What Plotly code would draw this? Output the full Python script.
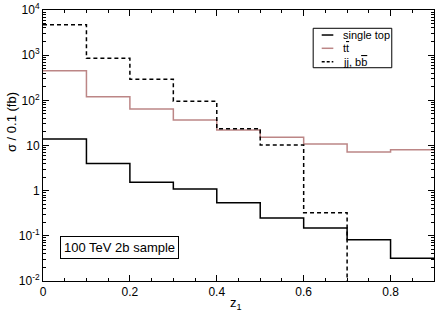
import plotly.graph_objects as go

bin_edges = [0.0, 0.1, 0.2, 0.3, 0.4, 0.5, 0.6, 0.7, 0.8, 0.9]
single_top = [14.0, 4.0, 1.53, 1.09, 0.54, 0.248, 0.149, 0.082, 0.032]
ttbar = [450.0, 120.0, 64.0, 36.7, 22.0, 15.2, 10.8, 7.2, 8.1]
jj_bb = [4730.0, 852.0, 292.0, 95.0, 23.6, 10.3, 0.326]
jj_floor = 1e-4  # bin 0.7-0.8 is empty: line drops to the bottom of the frame

series_names = ["single top", "t<span style='text-decoration:overline'>t</span>",
                "jj, b<span style='text-decoration:overline'>b</span>"]
series_colors = ["black", "#bc8686", "black"]
series_dash = ["solid", "solid", "4px,3px"]

y_tickvals = [1e-2, 1e-1, 1, 10, 1e2, 1e3, 1e4]
y_ticktext = ["10<sup>-2</sup>", "10<sup>-1</sup>", "1", "10", "10<sup>2</sup>", "10<sup>3</sup>", "10<sup>4</sup>"]
x_tickvals = [0, 0.2, 0.4, 0.6, 0.8]
x_ticktext = ["0", "0.2", "0.4", "0.6", "0.8"]

FONT = "Liberation Sans, Arial, sans-serif"

fig = go.Figure()
fig.add_trace(go.Scatter(
    x=bin_edges, y=single_top + [single_top[-1]], mode="lines", line_shape="hv",
    line=dict(color=series_colors[0], width=1.5, dash=series_dash[0]), name=series_names[0]))
fig.add_trace(go.Scatter(
    x=bin_edges, y=ttbar + [ttbar[-1]], mode="lines", line_shape="hv",
    line=dict(color=series_colors[1], width=1.5, dash=series_dash[1]), name=series_names[1]))
fig.add_trace(go.Scatter(
    x=bin_edges[:len(jj_bb) + 1], y=jj_bb + [jj_floor], mode="lines", line_shape="hv",
    line=dict(color=series_colors[2], width=1.5, dash=series_dash[2]), name=series_names[2]))

minor_y = [m * 10 ** e for e in range(-2, 4) for m in range(2, 10)]

# compact legend box drawn in paper coordinates
leg_x0, leg_x1, leg_y0, leg_y1 = 0.691, 0.892, 0.787, 0.9325
row_y = [0.9077, 0.8587, 0.8092]
shapes = [dict(type="rect", xref="paper", yref="paper", x0=leg_x0, x1=leg_x1, y0=leg_y0, y1=leg_y1,
               line=dict(color="black", width=1), fillcolor="white", layer="above")]
annotations = []
for name, col, dash, ry in zip(series_names, series_colors, series_dash, row_y):
    shapes.append(dict(type="line", xref="paper", yref="paper", x0=0.7128, x1=0.7425, y0=ry, y1=ry,
                       line=dict(color=col, width=1.5, dash="3px,2px" if dash != "solid" else "solid"),
                       layer="above"))
    annotations.append(dict(text=name, xref="paper", yref="paper", x=0.7614, y=ry,
                            xanchor="left", yanchor="middle", showarrow=False,
                            font=dict(family=FONT, size=11, color="black")))

annotations += [
    dict(text="100 TeV 2b sample", xref="paper", yref="paper",
         x=0.043, y=0.081, xanchor="left", yanchor="bottom",
         showarrow=False, font=dict(family=FONT, size=13),
         bordercolor="black", borderwidth=1, borderpad=3, bgcolor="white"),
    dict(text="z<sub>1</sub>", xref="paper", yref="paper", x=0.494, y=-0.044,
         xanchor="center", yanchor="top", showarrow=False, font=dict(family=FONT, size=13)),
    dict(text="σ / 0.1 (fb)", xref="paper", yref="paper", x=-0.079, y=0.587,
         xanchor="center", yanchor="middle", textangle=-90, showarrow=False,
         font=dict(family=FONT, size=13)),
]

fig.update_layout(
    width=436, height=313,
    margin=dict(l=43, r=2, t=10, b=32, autoexpand=False),
    paper_bgcolor="white", plot_bgcolor="white",
    font=dict(family=FONT, size=12, color="black"),
    showlegend=False,
    xaxis=dict(range=[0, 0.9], tickvals=x_tickvals, ticktext=x_ticktext,
               ticks="inside", ticklen=6, tickwidth=1, tickcolor="black",
               showline=True, linecolor="black", linewidth=1, mirror="allticks",
               showgrid=False, zeroline=False, automargin=False,
               minor=dict(dtick=0.05, ticks="inside", ticklen=3, tickcolor="black", showgrid=False),
               tickfont=dict(size=12)),
    yaxis=dict(type="log", range=[-2, 4], tickvals=y_tickvals, ticktext=y_ticktext,
               ticks="inside", ticklen=6, tickwidth=1, tickcolor="black",
               showline=True, linecolor="black", linewidth=1, mirror="allticks",
               showgrid=False, zeroline=False, automargin=False,
               minor=dict(tickvals=minor_y, ticks="inside", ticklen=3, tickcolor="black", showgrid=False),
               tickfont=dict(size=12)),
    shapes=shapes,
    annotations=annotations,
)

fig.write_html("out.html", config={"displayModeBar": False},
               post_script="document.body.style.margin='0';document.body.style.padding='0';")
